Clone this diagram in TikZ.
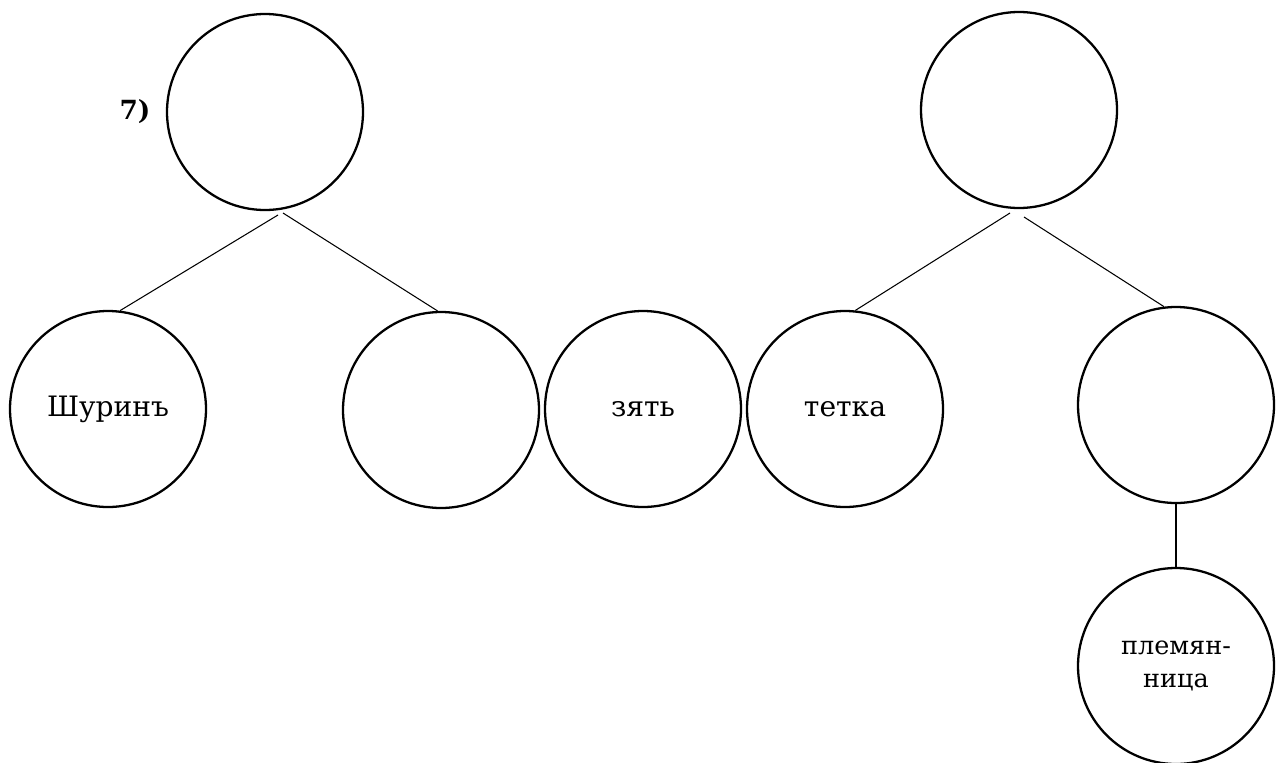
\documentclass[tikz,border=0pt]{standalone}
\usepackage{fontspec}
\setmainfont{DejaVu Serif}
\tikzset{
    kin/.style={circle, draw, line width=1.3pt, minimum size=3.92cm, inner sep=0pt,
        align=center, font=\fontsize{16}{18.5}\selectfont},
    branch/.style={line width=0.6pt}
}
\begin{document}
\begin{tikzpicture}
    \useasboundingbox (0,0) rectangle (25.52,-15.24);
    % Верхний ряд
    \node[kin] (topL) at (5.3,-2.24) {};
    \node[kin] (topR) at (20.38,-2.2) {};
    \node[font=\fontsize{15}{18}\selectfont\bfseries] (num) at (2.7,-2.24) {7)};

    % Нижний ряд
    \node[kin] (shurin) at (2.16,-8.18) {Шуринъ};
    \node[kin] (empty) at (8.82,-8.2) {};
    \node[kin] (zyat) at (12.86,-8.18) {зять};
    \node[kin] (tetka) at (16.9,-8.18) {тетка};
    \node[kin] (rmid) at (23.52,-8.1) {};
    \node[kin, font=\fontsize{14.5}{18.5}\selectfont] (plem) at (23.52,-13.32)
        {племян-\\ница};

    % Ветви
    \coordinate (forkLa) at (5.56,-4.30);
    \coordinate (forkLb) at (5.66,-4.26);
    \coordinate (forkRa) at (20.2,-4.26);
    \coordinate (forkRb) at (20.48,-4.34);
    \draw[branch] (forkLa) -- (shurin.83);
    \draw[branch] (forkLb) -- (empty.92);
    \draw[branch] (forkRa) -- (tetka.84);
    \draw[branch] (forkRb) -- (rmid.97);
    \draw[branch] (rmid.south) -- (plem.north);
\end{tikzpicture}
\end{document}
